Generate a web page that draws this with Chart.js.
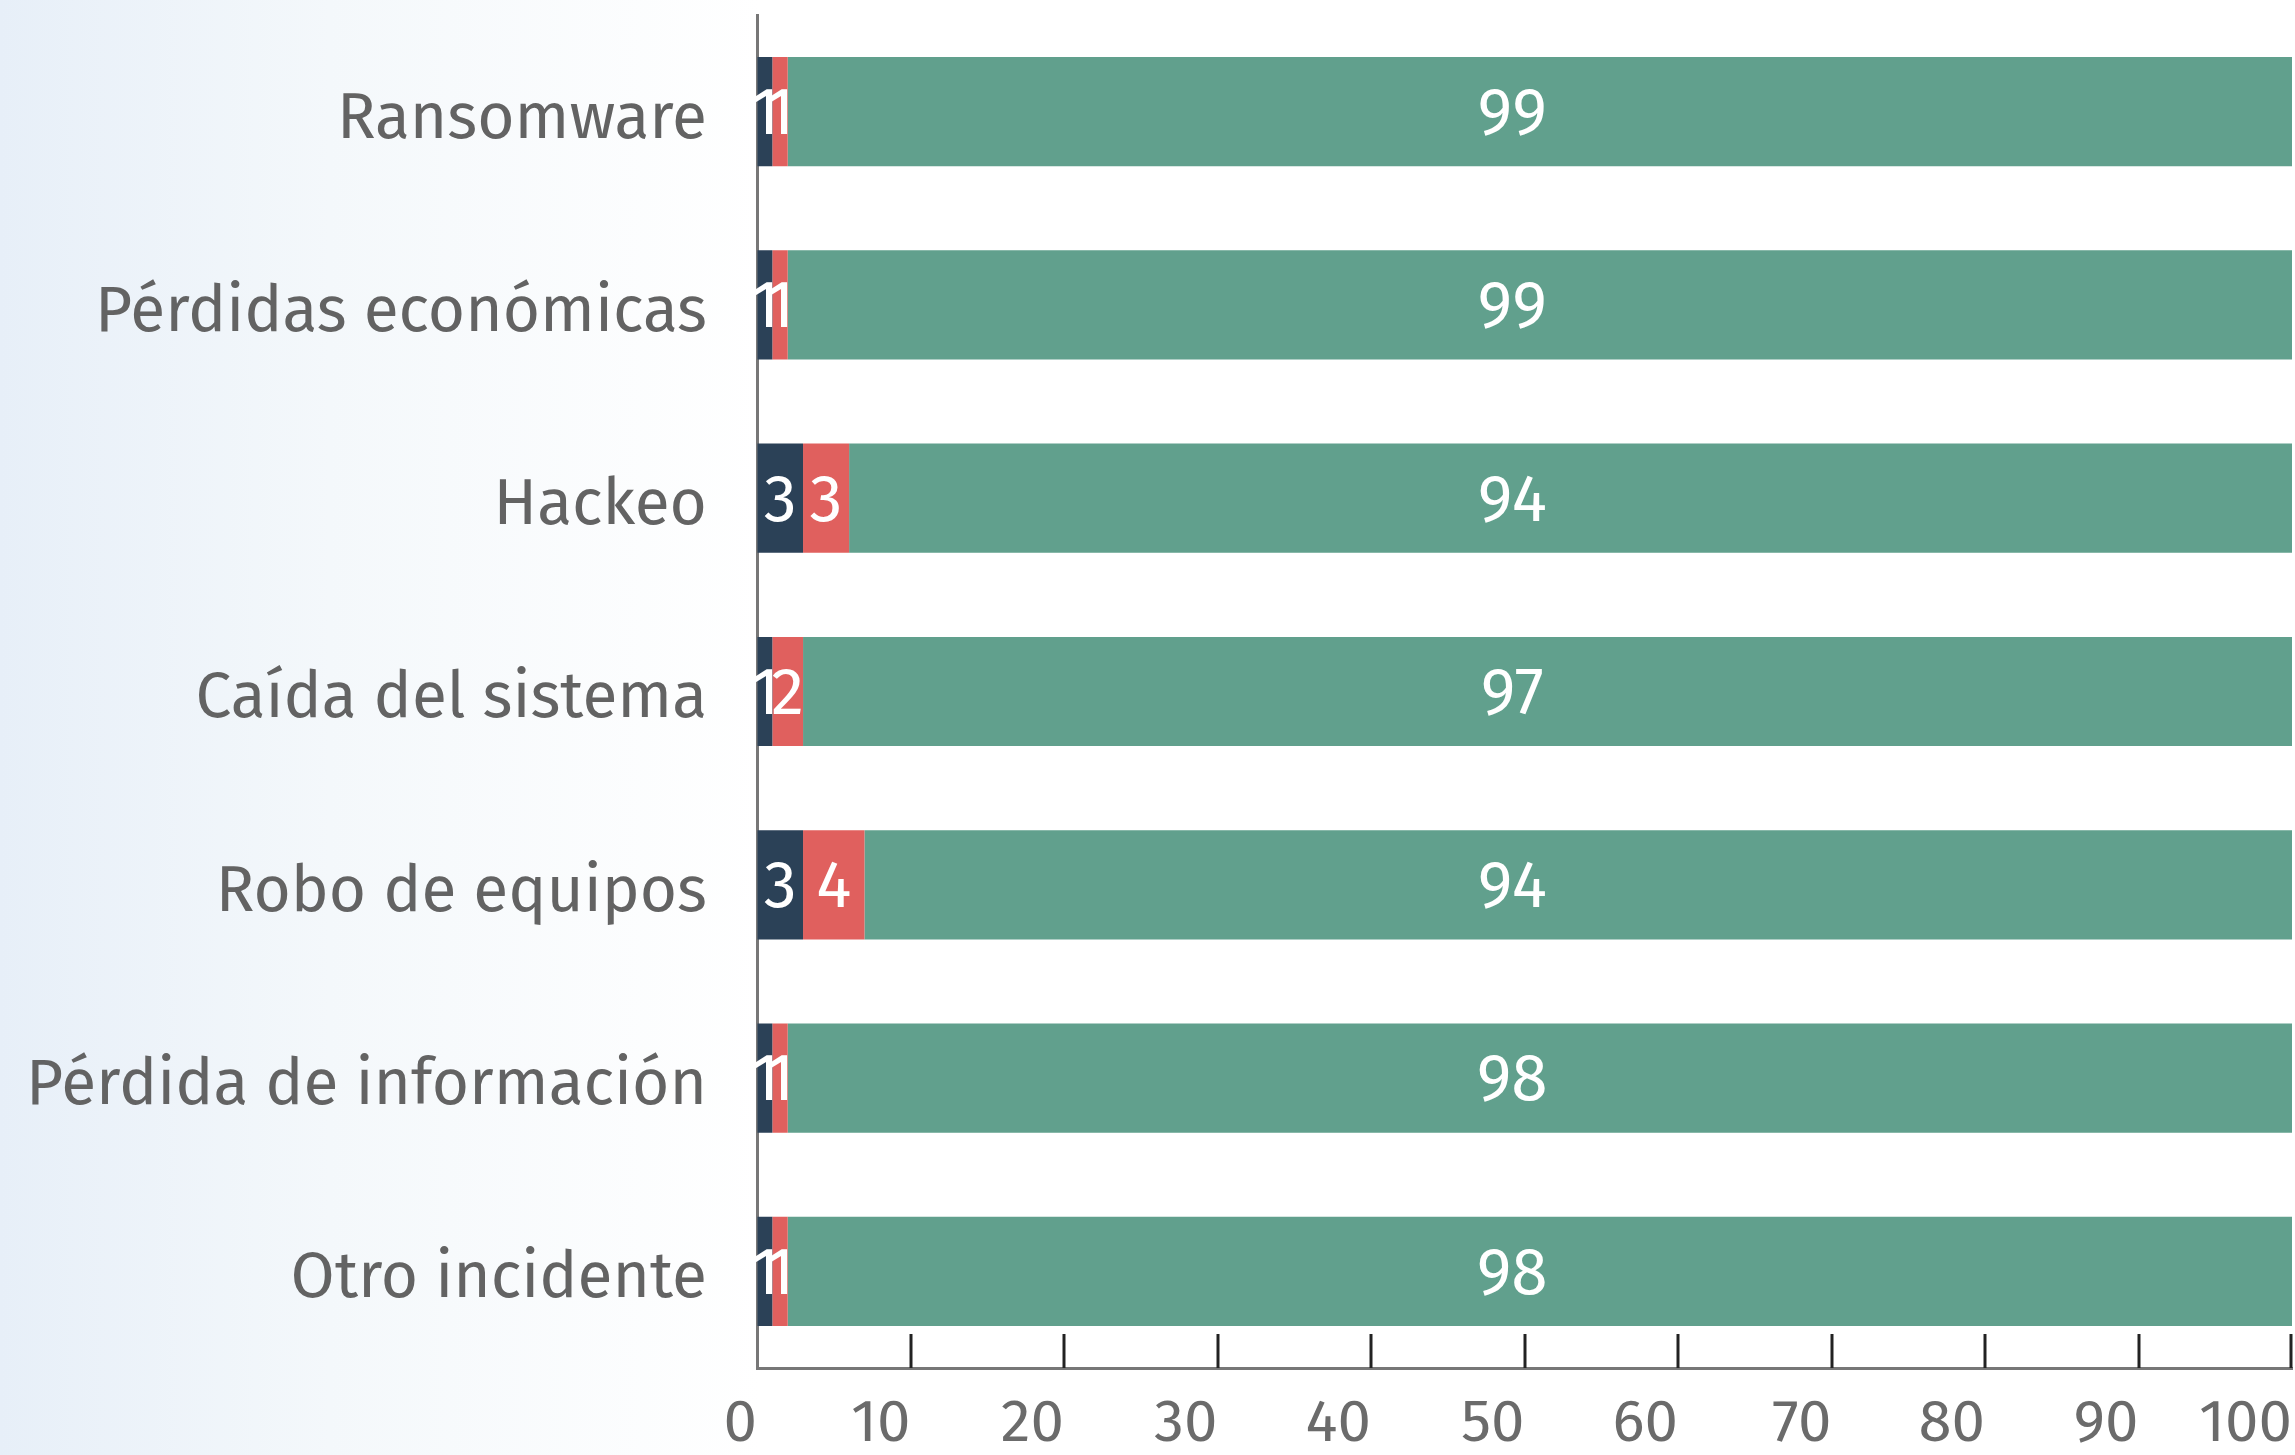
<!DOCTYPE html>
<html>
<head>
<meta charset="utf-8">
<script src="https://cdn.jsdelivr.net/npm/chart.js@4.4.1/dist/chart.umd.min.js"></script>
<style>
    html, body {
        margin: 0;
        padding: 0;
        width: 2295px;
        height: 1455px;
        overflow: hidden;
        background: linear-gradient(to right, #e7eff8 0px, #f4f8fb 330px, #ffffff 760px);
    }
    #wrap { position: relative; width: 2295px; height: 1455px; }
</style>
</head>
<body>
<div id="wrap"><canvas id="chart"></canvas></div>
<script>
// categories and series (percent)
const categories = [
    "Ransomware",
    "Pérdidas económicas",
    "Hackeo",
    "Caída del sistema",
    "Robo de equipos",
    "Pérdida de información",
    "Otro incidente",
];
const seriesDark = [1, 1, 3, 1, 3, 1, 1];
const seriesRed = [1, 1, 3, 2, 4, 1, 1];
const seriesGreen = [99, 99, 94, 97, 94, 98, 98];
const xTicks = [0, 10, 20, 30, 40, 50, 60, 70, 80, 90, 100];

const FONT = "'Fira Sans', Roboto, 'Liberation Sans', sans-serif";
const colors = ["#2b4157", "#e0605e", "#61a08d"];

// white numbers inside the segments
const segmentLabels = {
    id: "segmentLabels",
    afterDatasetsDraw(chart) {
        const ctx = chart.ctx;
        const xs = chart.scales.x;
        ctx.save();
        ctx.fillStyle = "#ffffff";
        ctx.font = "66px " + FONT;
        ctx.textAlign = "center";
        ctx.textBaseline = "middle";
        chart.data.datasets.forEach((ds, di) => {
            const meta = chart.getDatasetMeta(di);
            meta.data.forEach((bar, i) => {
                let x;
                if (di === 2) {
                    // the big segment's number sits near the middle of the axis
                    x = xs.getPixelForValue(49.2);
                } else {
                    x = (bar.x + bar.base) / 2;
                }
                ctx.fillText(String(ds.data[i]), x, bar.y + 4);
            });
        });
        ctx.restore();
    },
};

// tick marks pointing up from the bottom axis
const innerTicks = {
    id: "innerTicks",
    afterDraw(chart) {
        const ctx = chart.ctx;
        const xs = chart.scales.x;
        const bottom = chart.chartArea.bottom;
        ctx.save();
        ctx.strokeStyle = "#222222";
        ctx.lineWidth = 3;
        xs.ticks.forEach(t => {
            if (t.value === 0) return;
            let x = Math.round(xs.getPixelForValue(t.value));
            if (t.value === 100) x -= 1;
            ctx.beginPath();
            ctx.moveTo(x, bottom - 34);
            ctx.lineTo(x, bottom);
            ctx.stroke();
        });
        ctx.restore();
    },
};

function noPad(scale) {
    scale.paddingTop = 0;
    scale.paddingBottom = 0;
    scale.paddingLeft = 0;
    scale.paddingRight = 0;
}

const ctx = document.getElementById("chart").getContext("2d");
const chart = new Chart(ctx, {
    type: "bar",
    data: {
        labels: categories,
        datasets: [
            { data: seriesDark, backgroundColor: colors[0] },
            { data: seriesRed, backgroundColor: colors[1] },
            { data: seriesGreen, backgroundColor: colors[2] },
        ],
    },
    options: {
        indexAxis: "y",
        responsive: true,
        maintainAspectRatio: false,
        animation: false,
        layout: { padding: { top: 15, right: 3, left: 0, bottom: 0 } },
        datasets: {
            bar: { categoryPercentage: 1, barPercentage: 0.565, borderWidth: 0 },
        },
        plugins: {
            legend: { display: false },
            tooltip: { enabled: false },
        },
        scales: {
            x: {
                stacked: true,
                min: 0,
                max: 100,
                afterBuildTicks: (scale) => {
                    scale.ticks = xTicks.map(v => ({ value: v }));
                },
                afterFit: (scale) => { scale.height = 87; noPad(scale); },
                grid: { display: true, drawOnChartArea: false, drawTicks: false },
                border: { display: true, color: "#777777", width: 3 },
                ticks: {
                    align: "end",
                    padding: 20,
                    color: "#6b6b6b",
                    font: { family: FONT, size: 60 },
                    maxRotation: 0,
                    autoSkip: false,
                },
            },
            y: {
                stacked: true,
                afterFit: (scale) => { scale.width = 757; noPad(scale); },
                grid: { display: false, drawTicks: false },
                border: { display: true, color: "#777777", width: 3 },
                ticks: {
                    padding: 50,
                    labelOffset: 8,
                    color: "#636363",
                    font: { family: FONT, size: 64 },
                },
            },
        },
    },
    plugins: [segmentLabels, innerTicks],
});
</script>
</body>
</html>
